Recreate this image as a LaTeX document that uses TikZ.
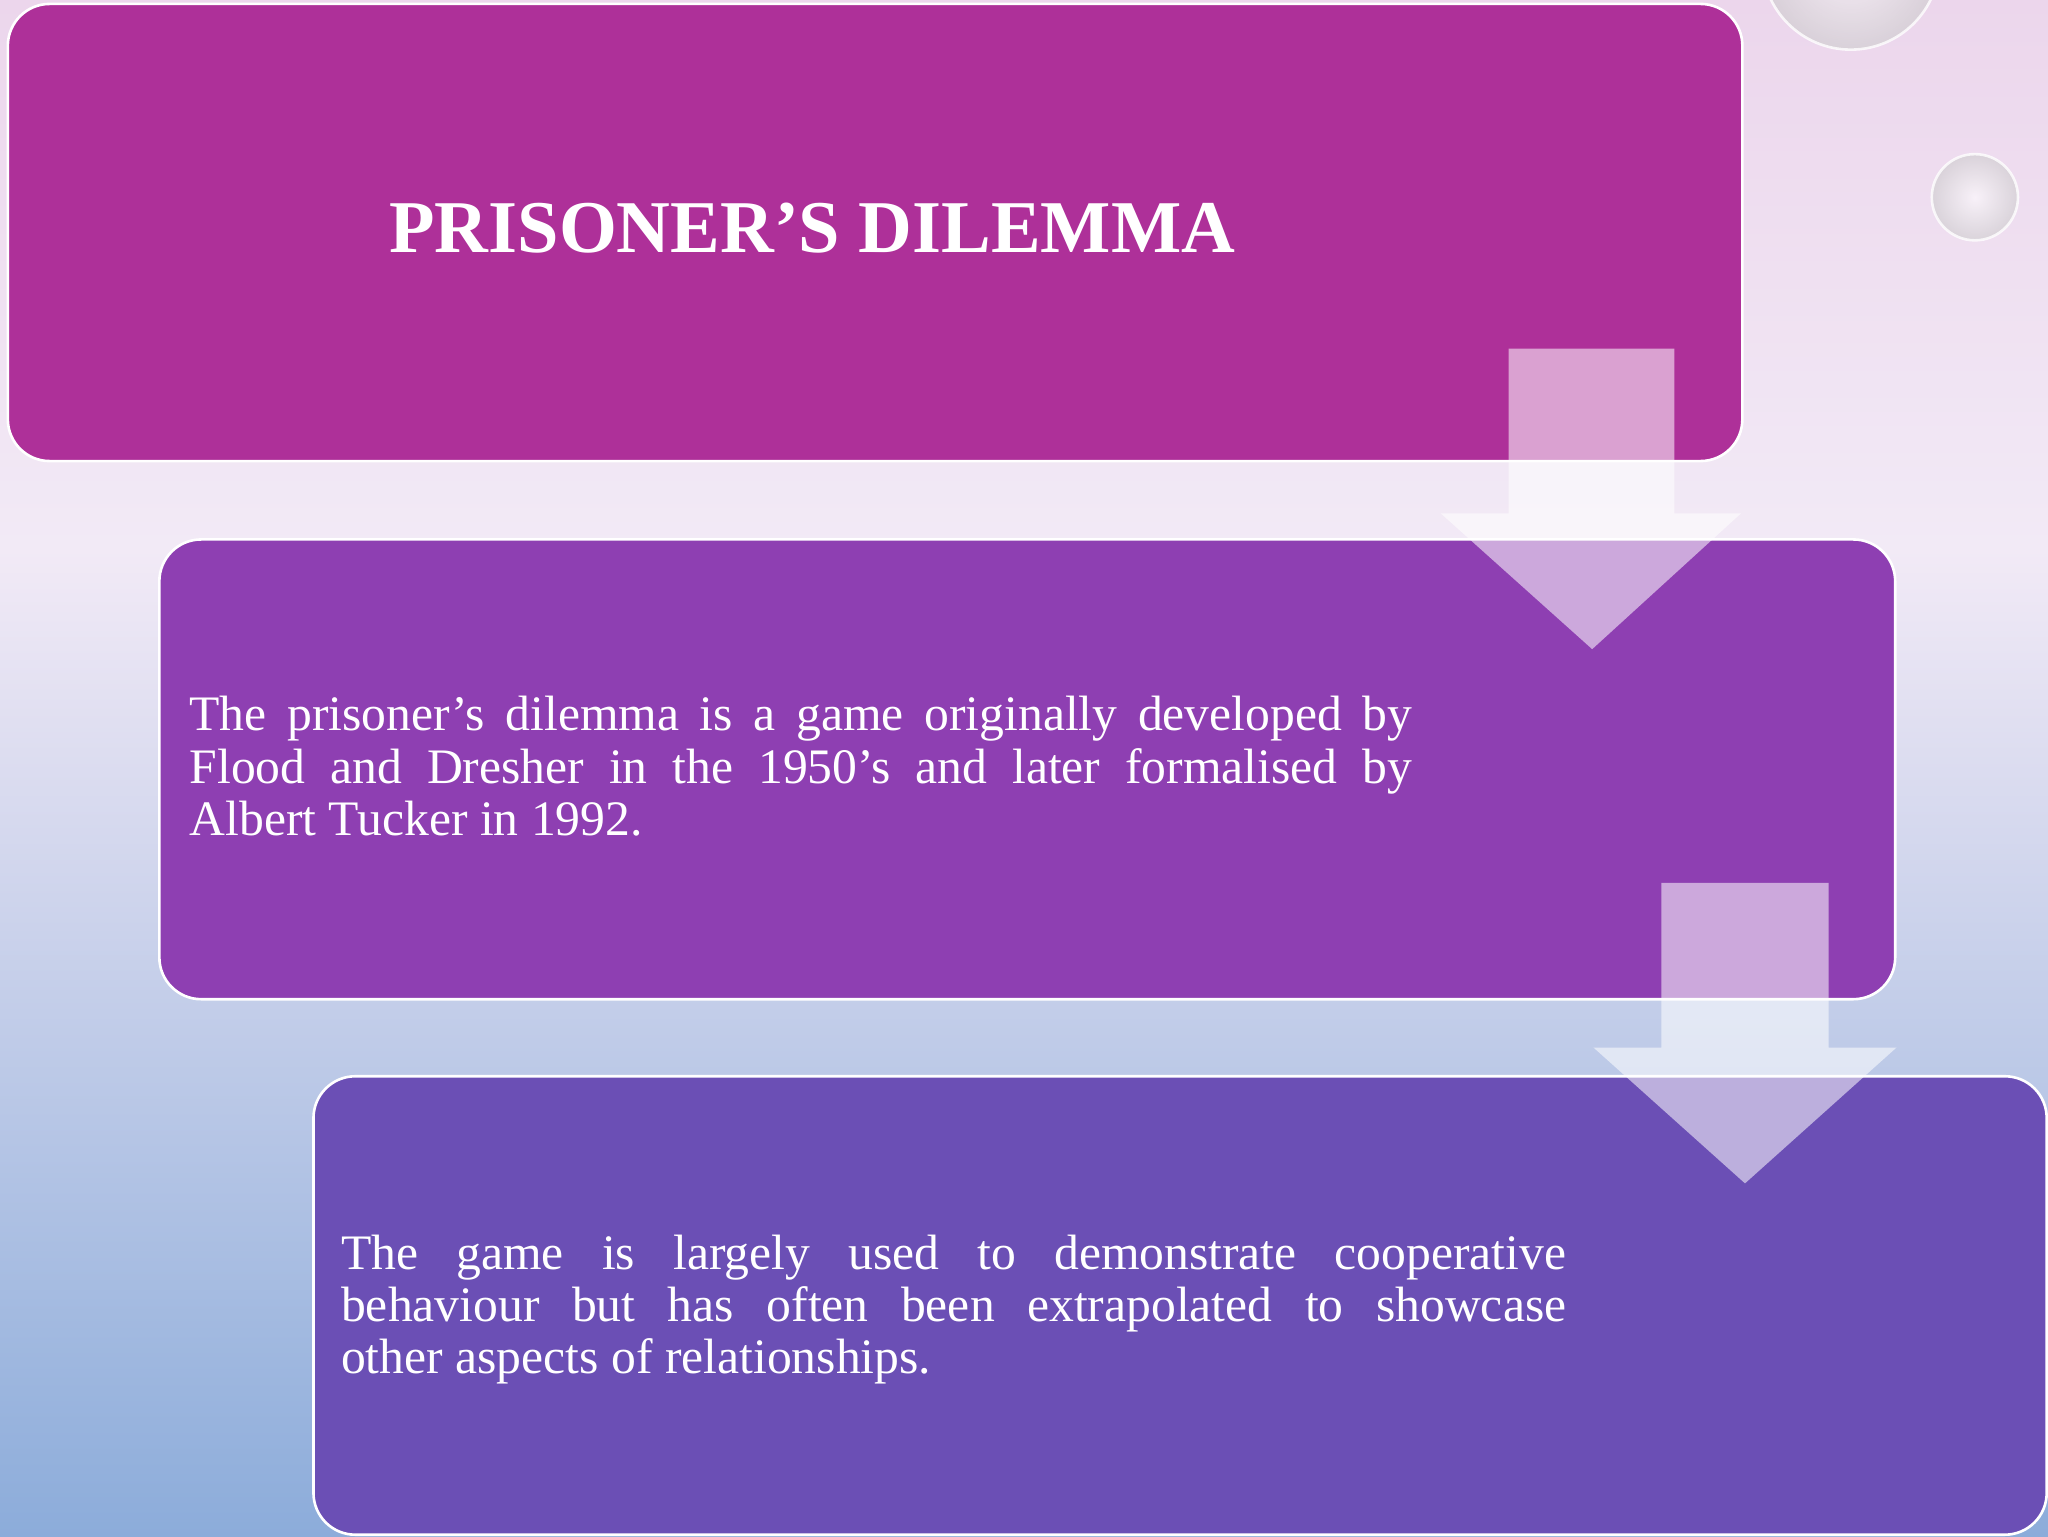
\documentclass[tikz,border=0pt]{standalone}
\usepackage{fontspec}
\setmainfont{Liberation Serif}
\definecolor{bgtop}{RGB}{236,214,236}
\definecolor{bgmid}{RGB}{242,234,246}
\definecolor{bgbot}{RGB}{140,172,218}
\begin{document}
\begin{tikzpicture}[x=1pt,y=-1pt,
 box/.style={draw=white,line width=2pt,rounded corners=32pt},
 arr/.style={fill=white,fill opacity=0.55,draw=none},
 body/.style={text=white,font=\fontsize{38}{40}\selectfont,align=justify,anchor=north west,inner sep=0pt}]
\shade[top color=bgtop, bottom color=bgmid] (0,0) rectangle (1568,420);
\shade[top color=bgmid, bottom color=bgbot] (0,420) rectangle (1568,1176);
\useasboundingbox (0,0) rectangle (1568,1176);
% bubbles
\shade[inner color=white,outer color=gray!40,opacity=0.6] (1417,-30) circle (68);
\draw[white,line width=2pt,opacity=0.8] (1417,-30) circle (68);
\shade[inner color=white,outer color=gray!40,opacity=0.6] (1512,151) circle (33);
\draw[white,line width=2pt,opacity=0.8] (1512,151) circle (33);
\node[box,fill={rgb,255:red,174;green,48;blue,153},minimum width=1328,minimum height=350,anchor=north west] (b1) at (5,2) {};
\node[box,fill={rgb,255:red,142;green,63;blue,178},minimum width=1329,minimum height=352,anchor=north west] (b2) at (121,412) {};
\node[box,fill={rgb,255:red,107;green,79;blue,181},minimum width=1327,minimum height=351,anchor=north west] (b3) at (239,823) {};
\fill[arr] (1155,267) -- (1282,267) -- (1282,393) -- (1333,393) -- (1219,497) -- (1103,393) -- (1155,393) -- cycle;
\fill[arr] (1272,676) -- (1400,676) -- (1400,802) -- (1452,802) -- (1336,906) -- (1220,802) -- (1272,802) -- cycle;
\node[text=white,font=\fontsize{57}{60}\selectfont\bfseries] (t) at (622,175) {PRISONER’S DILEMMA};
\node[body,text width=936] (p1) at (145,533) {\hyphenpenalty=10000 The prisoner’s dilemma is a game originally developed by\linebreak Flood and Dresher in the 1950’s and later formalised by\linebreak Albert Tucker in 1992.};
\node[body,text width=938] (p2) at (261,945) {\hyphenpenalty=10000 The game is largely used to demonstrate cooperative\linebreak behaviour but has often been extrapolated to showcase\linebreak other aspects of relationships.};
\end{tikzpicture}
\end{document}
